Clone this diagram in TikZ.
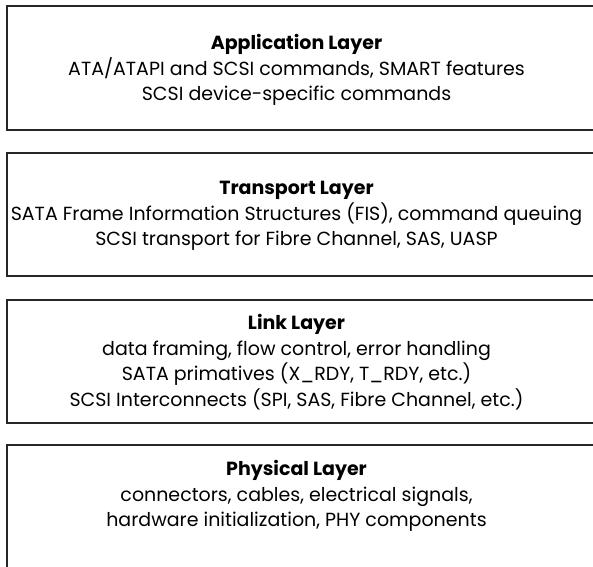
\documentclass[tikz,border=0pt]{standalone}
\usepackage{fontspec}
\setmainfont{Poppins}
\begin{document}
\begin{tikzpicture}[x=1pt,y=-1pt]
	\tikzset{
		layerbox/.style={draw=black!85, line width=1.3pt},
		layertext/.style={align=center, inner sep=0pt, font=\fontsize{19}{25.5}\selectfont}
	}
	\useasboundingbox (0,0) rectangle (593,566);
	\clip (0,0) rectangle (593,566);
	\draw[layerbox] (7,6) rectangle (605,130);
	\draw[layerbox] (7,153) rectangle (605,276);
	\draw[layerbox] (7,300) rectangle (605,423);
	\draw[layerbox] (7,445) rectangle (605,580);
	\node[layertext] (app) at (296.5,70) {\textbf{Application Layer}\\ATA/ATAPI and SCSI commands, SMART features\\SCSI device-specific commands};
	\node[layertext] (trans) at (296.5,216) {\textbf{Transport Layer}\\SATA Frame Information Structures (FIS), command queuing\\SCSI transport for Fibre Channel, SAS, UASP};
	\node[layertext] (link) at (296.5,362) {\textbf{Link Layer}\\data framing, flow control, error handling\\SATA primatives (X\_RDY, T\_RDY, etc.)\\SCSI Interconnects (SPI, SAS, Fibre Channel, etc.)};
	\node[layertext] (phys) at (296.5,496) {\textbf{Physical Layer}\\connectors, cables, electrical signals,\\hardware initialization, PHY components};
\end{tikzpicture}
\end{document}
